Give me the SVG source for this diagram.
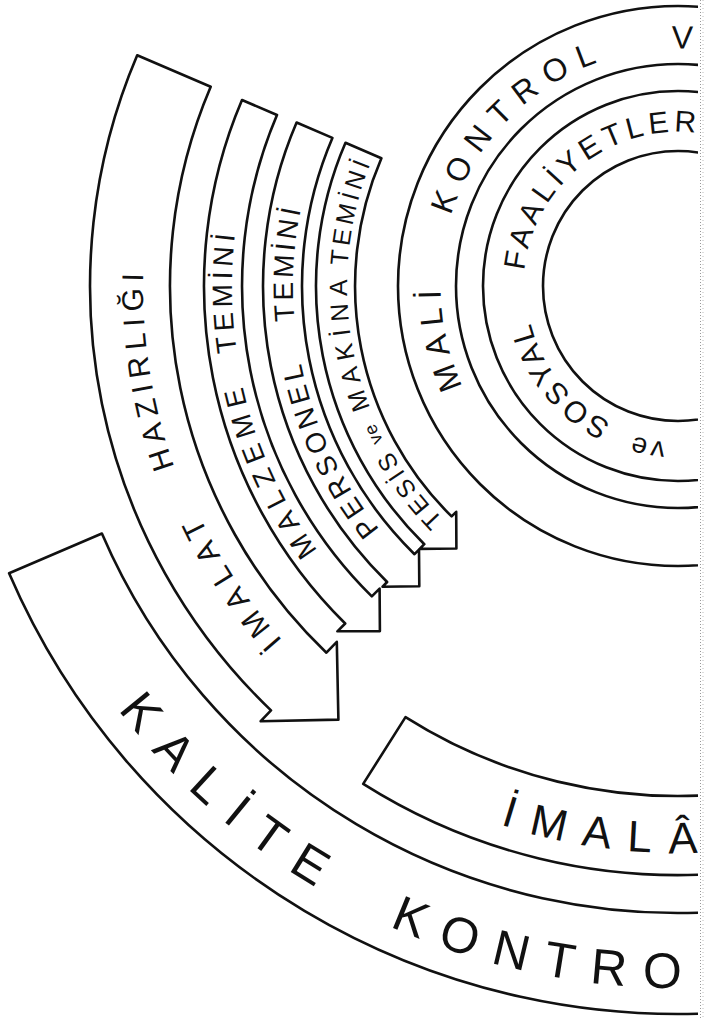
<svg xmlns="http://www.w3.org/2000/svg" xmlns:xlink="http://www.w3.org/1999/xlink" width="705" height="1019" viewBox="0 0 705 1019">
<style>
.ln{fill:none;stroke:#111;stroke-width:2.6;stroke-linejoin:round;stroke-linecap:round}
.sh{fill:#fff;stroke:#111;stroke-width:2.6;stroke-linejoin:round}
text{font-family:"Liberation Sans",Arial,sans-serif;fill:#111}
</style>
<defs>
<clipPath id="page"><rect x="0" y="0" width="698" height="1019"/></clipPath>
<path id="p-mali" d="M462.8,386.4 A237.5,237.5 0 0 1 441.4,265.3"/>
<path id="p-kontrol1" d="M451.1,215.8 A237.5,237.5 0 0 1 636.8,52.1"/>
<path id="p-v" d="M671.4,48.6 A237.5,237.5 0 0 1 739.5,56.6"/>
<path id="p-faal" d="M524.5,270.7 A154.3,154.3 0 0 1 717.9,137.0"/>
<path id="p-sosyal" d="M611.1,422.5 A152,152 0 0 1 526.6,299.3"/>
<path id="p-ve1" d="M665.7,442.0 A156.5,156.5 0 0 1 611.9,427.8"/>
<path id="p-imalat" d="M282.6,640.4 A531,531 0 0 1 185.7,484.9"/>
<path id="p-hazir" d="M174.5,466.9 A535,535 0 0 1 145.9,230.1"/>
<path id="p-malzeme" d="M317.8,550.6 A447,447 0 0 1 237.8,363.6"/>
<path id="p-temini1" d="M236.9,351.9 A446,446 0 0 1 241.8,193.3"/>
<path id="p-personel" d="M379.7,529.3 A385,385 0 0 1 296.7,339.6"/>
<path id="p-temini2" d="M294.6,320.9 A385,385 0 0 1 307.9,179.9"/>
<path id="p-tesis" d="M443.6,519.7 A331,331 0 0 1 388.5,446.5"/>
<path id="p-ve2" d="M383.2,440.8 A333,333 0 0 1 365.1,399.9"/>
<path id="p-makina" d="M370.2,407.8 A331,331 0 0 1 347.5,268.7"/>
<path id="p-temini3" d="M347.6,265.8 A331,331 0 0 1 378.0,146.1"/>
<path id="p-kalite" d="M118.1,709.4 A702,702 0 0 0 348.4,905.8"/>
<path id="p-kontrol2" d="M389.5,926.0 A702,702 0 0 0 739.2,985.3"/>
<path id="p-imala" d="M500.0,824.3 A567,567 0 0 0 756.9,847.5"/>
</defs>
<rect x="0" y="0" width="705" height="1019" fill="#fff"/>
<g clip-path="url(#page)">
<g id="ring-mali-kontrol">
<circle class="ln" cx="678" cy="286" r="280"/>
<circle class="ln" cx="678" cy="286" r="222"/>
<text font-size="32" letter-spacing="8.3"><textPath xlink:href="#p-mali">MALİ</textPath></text>
<text font-size="32" letter-spacing="10.8"><textPath xlink:href="#p-kontrol1">KONTROL</textPath></text>
<text font-size="32"><textPath xlink:href="#p-v">V</textPath></text>
</g>
<g id="ring-sosyal-faaliyetler">
<circle class="ln" cx="678" cy="286" r="195"/>
<circle class="ln" cx="678" cy="286" r="135"/>
<text font-size="28" letter-spacing="3"><textPath xlink:href="#p-ve1">ve</textPath></text>
<text font-size="30" letter-spacing="2.8"><textPath xlink:href="#p-sosyal">SOSYAL</textPath></text>
<text font-size="30" letter-spacing="4.6"><textPath xlink:href="#p-faal">FAALİYETLER</textPath></text>
</g>
<g id="band-kalite-kontrol">
<path class="sh" d="M732.7,910.6 A627,627 0 0 1 101.9,533.5 L9.1,573.3 A728,728 0 0 0 741.5,1011.2"/>
<text font-size="50" letter-spacing="19"><textPath xlink:href="#p-kalite">KALİTE</textPath></text>
<text font-size="50" letter-spacing="17.4"><textPath xlink:href="#p-kontrol2">KONTRO</textPath></text>
</g>
<g id="band-imalat">
<path class="sh" d="M722.5,794.1 A510,510 0 0 1 405.5,717.1 L363.2,783.9 A589,589 0 0 0 729.4,872.8"/>
<text font-size="44" letter-spacing="17.2"><textPath xlink:href="#p-imala">İMALÂ</textPath></text>
</g>
</g>
<g id="connectors">
<g id="arrow-imalat-hazirligi">
<path class="sh" d="M137.2,55.3 A588,588 0 0 0 271.0,710.4 L260.7,721.2 L338.4,719.6 L336.8,641.8 L326.4,652.7 A508,508 0 0 1 210.7,86.7 Z"/>
<text font-size="30" letter-spacing="8.6"><textPath xlink:href="#p-imalat">İMALAT</textPath></text>
<text font-size="30" letter-spacing="6.3"><textPath xlink:href="#p-hazir">HAZIRLIĞI</textPath></text>
</g>
<g id="arrow-malzeme">
<path class="sh" d="M242.0,100.0 A474,474 0 0 0 345.2,623.5 L337.4,631.3 L379.9,631.1 L379.6,588.6 L371.8,596.4 A436,436 0 0 1 277.0,115.0 Z"/>
<text font-size="28" letter-spacing="7.7"><textPath xlink:href="#p-malzeme">MALZEME</textPath></text>
<text font-size="28" letter-spacing="4.5"><textPath xlink:href="#p-temini1">TEMİNİ</textPath></text>
</g>
<g id="arrow-personel">
<path class="sh" d="M296.6,122.5 A415,415 0 0 0 387.1,582.0 L382.6,586.7 L419.3,586.3 L419.0,549.6 L414.5,554.2 A376,376 0 0 1 332.4,137.9 Z"/>
<text font-size="28" letter-spacing="4.7"><textPath xlink:href="#p-personel">PERSONEL</textPath></text>
<text font-size="28" letter-spacing="3.4"><textPath xlink:href="#p-temini2">TEMİNİ</textPath></text>
</g>
<g id="arrow-tesis">
<path class="sh" d="M345.5,142.8 A362,362 0 0 0 424.3,544.2 L419.7,548.9 L456.4,548.5 L456.2,511.8 L451.6,516.4 A323,323 0 0 1 381.4,158.3 Z"/>
<text font-size="25" letter-spacing="3.7"><textPath xlink:href="#p-tesis">TESİS</textPath></text>
<text font-size="18" letter-spacing="1"><textPath xlink:href="#p-ve2">ve</textPath></text>
<text font-size="25" letter-spacing="7.1"><textPath xlink:href="#p-makina">MAKİNA</textPath></text>
<text font-size="25" letter-spacing="4"><textPath xlink:href="#p-temini3">TEMİNİ</textPath></text>
</g>
</g>
<line x1="700.5" y1="0" x2="700.5" y2="1019" stroke="#999" stroke-width="1" stroke-dasharray="1 2"/>
<line x1="703" y1="0" x2="703" y2="1019" stroke="#bbb" stroke-width="1" stroke-dasharray="1 3"/>
</svg>
